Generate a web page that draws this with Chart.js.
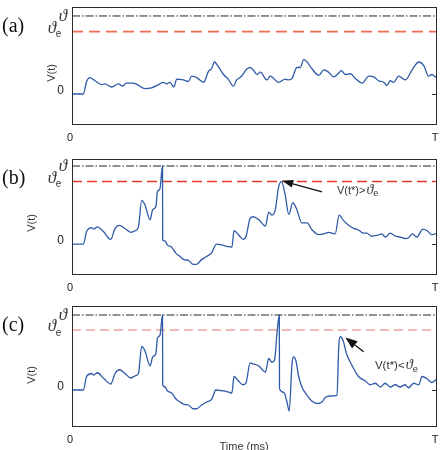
<!DOCTYPE html>
<html><head><meta charset="utf-8">
<script src="https://cdn.jsdelivr.net/npm/chart.js@4"></script>
<style>
html,body{margin:0;padding:0;background:#fff;width:446px;height:450px;overflow:hidden}
.p{position:absolute;left:0;width:446px;height:150px}
canvas{display:block}
</style></head><body>
<div class="p" style="top:0"><canvas id="ca" width="446" height="150"></canvas></div>
<div class="p" style="top:150px"><canvas id="cb" width="446" height="150"></canvas></div>
<div class="p" style="top:300px"><canvas id="cc" width="446" height="150"></canvas></div>
<script>
// ---- data (time in units of T/100) ----
const T_END = 100;
const THETA = 1.0;
const THETA_E = 0.8;
const xTickValues = [0, 100];
const xTickLabels = ['0', 'T'];
const yTickValues = [0];
const yTickLabels = ['0'];
const panelLabels = ['(a)', '(b)', '(c)'];
const xAxisTitle = 'Time (ms)';
const yAxisTitle = 'V(t)';

const timeA = [0,3.1,4,4.9,6.3,8.1,9,10.9,12.7,13.9,
  14.8,16.8,20,21.8,23.7,25,25.9,26.8,27.9,28.7,
  30.5,31.9,32.8,34.2,35,36,37.4,38.3,39,40.1,
  41.5,42.8,44.2,45.1,46.5,47.9,48.8,49.6,50.7,51.6,
  53.4,54.3,56.6,58.4,59.4,60.3,61.6,62.5,63.5,64.4,
  65.8,67.6,69,70.3,71.7,72.9,73.8,74.9,76.3,77.6,
  79.5,81.3,82.7,84,85.4,86.3,87.2,88.1,89.5,91.3,
  93.2,95,96.4,97.7,98.6,100];
const vA = [0,0,0.16,0.21,0.17,0.12,0.13,0.09,0.13,0.10,
  0.14,0.14,0.07,0.08,0.12,0.15,0.13,0.15,0.09,0.19,
  0.18,0.16,0.23,0.21,0.18,0.15,0.29,0.33,0.41,0.35,
  0.25,0.19,0.10,0.18,0.23,0.32,0.34,0.31,0.25,0.28,
  0.18,0.23,0.15,0.19,0.18,0.20,0.34,0.34,0.44,0.41,
  0.32,0.24,0.31,0.28,0.22,0.26,0.30,0.25,0.26,0.20,
  0.14,0.23,0.22,0.17,0.15,0.11,0.17,0.15,0.23,0.18,
  0.31,0.41,0.36,0.23,0.25,0.20];

const timeB = [0,3.1,4,5.4,6,6.9,8.6,10.6,11.8,13,
  14.5,16.1,17.3,18.2,19.1,20,21.4,22.1,23,23.4,
  24.1,24.8,24.85,25.5,26.1,27.3,28.5,29.6,30.7,31.9,
  33.2,34.1,35.5,36.9,38.3,39.6,41,42.4,43.8,44.4,
  45.6,46.9,47.7,48.8,49.6,51.2,53,53.9,54.8,55.7,
  56.6,57.4,58.4,59.4,60.5,61.6,63,64.4,65.8,67.6,
  69,70.3,72.1,73.2,74.4,75.8,77.2,78.5,79.9,80.8,
  82,83.5,84.9,85.8,87.2,88.6,89.9,91.3,92.2,93.2,
  94.5,96.1,97.3,98.6,100];
const vB = [0,0,0.16,0.21,0.19,0.22,0.16,0.06,0.20,0.24,
  0.20,0.15,0.17,0.22,0.56,0.50,0.31,0.44,0.48,0.67,
  0.71,1.0,0.05,0.04,-0.01,-0.04,-0.12,-0.16,-0.20,-0.21,
  -0.26,-0.26,-0.20,-0.16,-0.11,0,-0.01,-0.03,-0.04,0.17,
  0.12,0.06,0.10,0.33,0.35,0.31,0.23,0.41,0.37,0.44,
  0.73,0.80,0.63,0.38,0.53,0.44,0.27,0.27,0.18,0.12,
  0.13,0.15,0.13,0.37,0.30,0.24,0.20,0.18,0.14,0.14,
  0.10,0.11,0.13,0.09,0.14,0.10,0.09,0.07,0.08,0.13,
  0.09,0.19,0.17,0.12,0.14];

const timeC = [0,3.1,4,5.4,6,6.9,8.6,10.6,11.8,13,
  14.5,16.1,17.3,18.2,19.1,20,21.4,22.1,23,23.4,
  24.1,24.8,24.85,25.5,26.1,27.3,28.5,29.6,30.7,31.9,
  33.2,34.1,35.5,36.9,38.3,39.4,41,42.4,43.8,44.4,
  45.6,46.9,47.7,48.8,49.6,51.2,53,53.9,54.8,55.5,
  56.2,56.8,56.85,58,58.9,59.5,60.3,60.7,61.4,62.1,
  63,64.4,65.8,67.1,68.5,69.4,70.8,72.6,73.1,73.5,
  74.2,75.3,76.7,78.5,80.4,81.7,83.1,84.5,85.8,87.2,
  88.6,89.9,91.3,92.2,93.6,95,95.9,97.3,98.6,100];
const vC = [0,0,0.18,0.22,0.20,0.23,0.16,0.08,0.22,0.27,
  0.22,0.16,0.19,0.22,0.58,0.52,0.32,0.44,0.49,0.69,
  0.73,1.0,0.07,0.04,-0.01,-0.04,-0.12,-0.16,-0.19,-0.20,
  -0.25,-0.25,-0.20,-0.16,-0.12,0,-0.01,-0.02,-0.04,0.18,
  0.12,0.07,0.10,0.36,0.35,0.32,0.24,0.42,0.37,0.40,
  0.78,1.0,0.02,-0.03,-0.16,-0.28,0.36,0.44,0.38,0.18,
  0.04,-0.07,-0.15,-0.18,-0.16,-0.10,-0.08,-0.07,0.60,0.71,
  0.67,0.47,0.33,0.18,0.12,0.07,0.09,0.04,0.09,0.04,
  0.07,0.04,0.07,0.03,0.09,0.07,0.18,0.15,0.10,0.15];

// annotation anchor points (data units)
const arrowB = {from:[68.5, 0.67], to:[57.6, 0.81]};
const noteB = {at:[72.6, 0.68], text:'V(t*)>'};
const arrowC = {from:[79.9, 0.51], to:[74.9, 0.70]};
const noteC = {at:[83, 0.32], text:'V(t*)<'};

// ---- drawing ----
const SANS = '"Liberation Sans", Arial, sans-serif';
const SERIF = '"Liberation Serif", "DejaVu Serif", serif';

function drawArrow(ctx, x1, y1, x2, y2, len, wid){
  const ang = Math.atan2(y2 - y1, x2 - x1);
  const bx = x2 - len * Math.cos(ang), by = y2 - len * Math.sin(ang);
  ctx.strokeStyle = '#111'; ctx.fillStyle = '#111'; ctx.lineWidth = 1.3;
  ctx.beginPath(); ctx.moveTo(x1, y1); ctx.lineTo(bx, by); ctx.stroke();
  const nx = -Math.sin(ang) * wid / 2, ny = Math.cos(ang) * wid / 2;
  ctx.beginPath(); ctx.moveTo(x2, y2); ctx.lineTo(bx + nx, by + ny); ctx.lineTo(bx - nx, by - ny); ctx.closePath(); ctx.fill();
}

const deco = {
  id: 'deco',
  afterDatasetsDraw(chart){
    const o = chart.options.plugins.deco;
    const ctx = chart.ctx, a = chart.chartArea;
    const xs = chart.scales.x, ys = chart.scales.y;
    ctx.save();
    // frame
    ctx.strokeStyle = '#2a2a2a'; ctx.lineWidth = 1;
    ctx.strokeRect(a.left + 0.5, a.top + 0.5, a.right - a.left - 1, a.bottom - a.top - 1);
    // right inward tick at zero
    const y0 = Math.round(ys.getPixelForValue(0)) + 0.5;
    ctx.beginPath(); ctx.moveTo(a.right - 5, y0); ctx.lineTo(a.right, y0); ctx.stroke();
    // theta tick labels
    const yT = ys.getPixelForValue(THETA), yE = ys.getPixelForValue(THETA_E);
    ctx.fillStyle = '#333'; ctx.textAlign = 'center'; ctx.textBaseline = 'middle';
    ctx.font = 'italic 17px ' + SERIF;
    ctx.fillText('\u03D1', 63, yT + 1);
    ctx.fillText('\u03D1', 52, yE - 3);
    ctx.font = '10px ' + SANS;
    ctx.fillText('e', 58.5, yE + 3);
    // panel label
    ctx.fillStyle = '#111'; ctx.textAlign = 'left';
    ctx.font = '20px ' + SERIF;
    ctx.fillText(o.label, 2, o.labelY);
    // y axis title
    ctx.save(); ctx.fillStyle = '#333';
    ctx.translate(o.vx, o.vy); ctx.rotate(-Math.PI / 2);
    ctx.font = '11px ' + SANS; ctx.textAlign = 'center';
    ctx.fillText(yAxisTitle, 0, 0);
    ctx.restore();
    // arrow + note
    if (o.arrow){
      drawArrow(ctx, xs.getPixelForValue(o.arrow.from[0]), ys.getPixelForValue(o.arrow.from[1]),
        xs.getPixelForValue(o.arrow.to[0]), ys.getPixelForValue(o.arrow.to[1]), o.headLen, o.headW);
    }
    if (o.note){
      let x = xs.getPixelForValue(o.note.at[0]); const y = ys.getPixelForValue(o.note.at[1]);
      ctx.fillStyle = '#333'; ctx.textAlign = 'left'; ctx.textBaseline = 'middle';
      ctx.font = o.noteSize + 'px ' + SANS;
      ctx.fillText(o.note.text, x, y);
      x += ctx.measureText(o.note.text).width + 1;
      ctx.font = 'italic ' + (o.noteSize + 3) + 'px ' + SERIF;
      ctx.fillText('\u03D1', x, y - 1);
      x += ctx.measureText('\u03D1').width;
      ctx.font = (o.noteSize - 2) + 'px ' + SANS;
      ctx.fillText('e', x, y + 3);
    }
    if (o.timeTitle){
      ctx.fillStyle = '#333'; ctx.textAlign = 'center'; ctx.textBaseline = 'alphabetic';
      ctx.font = '11px ' + SANS;
      ctx.fillText(xAxisTitle, 244, 149.5);
    }
    ctx.restore();
  }
};

function makeChart(id, p){
  const pts = p.times.map((t, i) => ({x: t, y: p.values[i]}));
  return new Chart(document.getElementById(id), {
    type: 'line',
    data: {datasets: [
      {data: pts, borderColor: '#2e5aa8', borderWidth: 1.3, pointRadius: 0, cubicInterpolationMode: 'monotone'},
      {data: [{x: 0, y: THETA}, {x: T_END, y: THETA}], borderColor: '#1c2a22', borderWidth: 1, borderDash: [8, 2, 1.5, 2], pointRadius: 0},
      {data: [{x: 0, y: THETA_E}, {x: T_END, y: THETA_E}], borderColor: p.eColor, borderWidth: p.eWidth, borderDash: p.eDash, pointRadius: 0}
    ]},
    options: {
      responsive: false, animation: false, devicePixelRatio: 1,
      layout: {padding: {top: p.top, right: 9, left: 0, bottom: 0}},
      plugins: {legend: {display: false}, tooltip: {enabled: false}, deco: p.deco},
      scales: {
        x: {type: 'linear', min: 0, max: T_END,
          grid: {display: false, drawTicks: false}, border: {display: false},
          afterBuildTicks: ax => { ax.ticks = xTickValues.map(v => ({value: v})); },
          afterFit: ax => { ax.height = 150 - p.bottom; ax.paddingLeft = 0; ax.paddingRight = 0; },
          ticks: {padding: 6, labelOffset: -2, maxRotation: 0, autoSkip: false, color: '#222',
            font: {family: SANS, size: 11},
            callback: (v, i) => xTickLabels[i]}
        },
        y: {type: 'linear', min: p.yMin, max: p.yMax,
          grid: {display: false, drawTicks: false}, border: {display: false},
          afterBuildTicks: ax => { ax.ticks = yTickValues.map(v => ({value: v})); },
          afterFit: ax => { ax.width = 72; ax.paddingTop = 0; ax.paddingBottom = 0; },
          ticks: {padding: 8, labelOffset: -3, color: '#222', font: {family: SANS, size: 12},
            callback: (v, i) => yTickLabels[i]}
        }
      }
    },
    plugins: [deco]
  });
}

makeChart('ca', {top: 7, bottom: 125, yMin: -0.397, yMax: 1.115, times: timeA, values: vA,
  eColor: '#ee6a50', eWidth: 1.8, eDash: [11, 6],
  deco: {label: panelLabels[0], labelY: 27, vx: 52, vy: 73}});
makeChart('cb', {top: 9, bottom: 125, yMin: -0.397, yMax: 1.09, times: timeB, values: vB,
  eColor: '#e63a2a', eWidth: 1.5, eDash: [10, 5],
  deco: {label: panelLabels[1], labelY: 29, vx: 32, vy: 73, arrow: arrowB, headLen: 11, headW: 8, note: noteB, noteSize: 11}});
makeChart('cc', {top: 6, bottom: 127, yMin: -0.493, yMax: 1.12, times: timeC, values: vC,
  eColor: '#e87474', eWidth: 1, eDash: [9, 5],
  deco: {label: panelLabels[2], labelY: 26, vx: 32, vy: 75, arrow: arrowC, headLen: 12, headW: 9, note: noteC, noteSize: 11.5, timeTitle: true}});
</script>
</body></html>
